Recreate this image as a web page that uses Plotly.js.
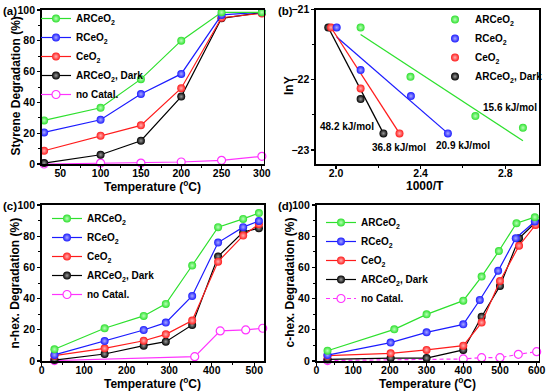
<!DOCTYPE html>
<html><head><meta charset="utf-8">
<script src="https://cdn.plot.ly/plotly-3.0.1.min.js"></script>
<style>html,body{margin:0;padding:0;background:#fff}#chart{width:553px;height:391px}</style>
</head><body><div id="chart"></div>
<script>
// ---------- names ----------
const nameAR = 'ARCeO<sub>2</sub>';
const nameR = 'RCeO<sub>2</sub>';
const nameCe = 'CeO<sub>2</sub>';
const nameDark = 'ARCeO<sub>2</sub>, Dark';
const nameNo = 'no Catal.';

// ---------- (a) styrene degradation ----------
const styT = [30, 100, 150, 200, 250, 300];
const styAR = [28.3, 36.5, 55.1, 80.1, 98.5, 98.5];
const styR = [20.5, 28.7, 45.4, 58.5, 96.8, 98.5];
const styCe = [8.6, 18.4, 25.1, 49.2, 95.0, 97.8];
const styDark = [0.6, 6.0, 15.1, 43.8, 94.6, 98.3];
const styNo = [0, 0.6, 0.6, 1.3, 2.4, 5.0];

// ---------- (b) Arrhenius plot ----------
const arrARx = [2.116, 2.352, 2.659, 2.884];
const arrARy = [-21.256, -21.959, -22.518, -22.684];
const arrRx = [2.003, 2.116, 2.354, 2.529];
const arrRy = [-21.256, -21.863, -22.233, -22.764];
const arrCex = [1.976, 2.116, 2.300];
const arrCey = [-21.256, -22.124, -22.764];
const arrDarkx = [1.963, 2.116, 2.224];
const arrDarky = [-21.256, -22.276, -22.764];
// fitted lines (end points)
const fitARx = [2.116, 2.884];
const fitARy = [-21.356, -22.869];
const fitRx = [2.003, 2.529];
const fitRy = [-21.390, -22.764];
const fitCex = [1.976, 2.300];
const fitCey = [-21.256, -22.764];
const fitDarkx = [1.963, 2.224];
const fitDarky = [-21.256, -22.764];
const eaLabels = ['15.6 kJ/mol', '20.9 kJ/mol', '36.8 kJ/mol', '48.2 kJ/mol'];

// ---------- (c) n-hexane degradation ----------
const nhexT = [30, 148, 240, 292, 354, 415, 474, 511];
const nhexAR = [7.5, 21.0, 28.9, 36.6, 61.2, 85.8, 91.1, 94.8];
const nhexR = [3.9, 12.8, 19.9, 24.6, 41.7, 75.9, 85.8, 89.8];
const nhexCe = [3.4, 8.1, 13.0, 17.1, 25.9, 63.7, 80.4, 87.7];
const nhexDark = [0.6, 4.5, 9.8, 12.4, 23.1, 67.0, 82.6, 85.1];
const nhexNoT = [30, 360, 420, 480, 520];
const nhexNo = [0.3, 2.8, 19.3, 19.9, 21.0];

// ---------- (d) c-hexane degradation ----------
const chexTAR = [30, 212, 300, 400, 450, 497, 545, 595];
const chexAR = [6.6, 20.3, 29.9, 38.7, 54.1, 70.5, 88.3, 92.2];
const chexTR = [30, 202, 300, 400, 445, 495, 543, 595];
const chexR = [3.8, 11.8, 18.4, 23.5, 39.1, 57.8, 78.7, 89.4];
const chexTCe = [30, 202, 300, 400, 450, 500, 552, 597];
const chexCe = [3.4, 4.9, 7.1, 9.8, 24.6, 51.3, 73.9, 87.2];
const chexDark = [1.0, 1.9, 1.9, 7.1, 28.4, 48.1, 78.7, 88.8];
const chexNoT = [30, 400, 450, 500, 550, 600];
const chexNo = [0.3, 1.3, 2.1, 2.1, 4.3, 6.0];

// ---------- axis titles ----------
const tTemp = 'Temperature (<sup>o</sup>C)';
const tSty = 'Styrene Degradation (%)';
const tInvT = '1000/T';
const tLnY = 'lnY';
const tNhex = 'n-hex. Degradation (%)';
const tChex = 'c-hex. Degradation (%)';

// ---------- styles ----------
const FONT = 'Liberation Sans, Arial, Helvetica, sans-serif';
const col = {
  AR: {c: '#2ee02e', g: '#b8ffb8'},
  R: {c: '#1c1cff', g: '#a8a8ff'},
  Ce: {c: '#ff1c1c', g: '#ffb0b0'},
  Dark: {c: '#000000', g: '#9a9a9a'},
  No: {c: '#ff33ff'}
};

function ball(key, x, y, name, xa, ya, legend, rank, mode) {
  return {
    x: x, y: y, name: name, type: 'scatter', mode: mode || 'lines+markers',
    xaxis: xa, yaxis: ya, legend: legend, legendrank: rank,
    line: {color: col[key].c, width: 1.2},
    marker: {size: 8, color: col[key].c, gradient: {type: 'radial', color: col[key].g}, line: {width: 0}},
    cliponaxis: false
  };
}
function hollow(x, y, xa, ya, legend, dash) {
  return {
    x: x, y: y, name: nameNo, type: 'scatter', mode: 'lines+markers',
    xaxis: xa, yaxis: ya, legend: legend, legendrank: 5,
    line: {color: col.No.c, width: 1.2, dash: dash || 'solid'},
    marker: {size: 8, color: '#ffffff', line: {width: 1.2, color: col.No.c}},
    cliponaxis: false
  };
}
function fit(key, x, y) {
  return {x: x, y: y, type: 'scatter', mode: 'lines', xaxis: 'x2', yaxis: 'y2',
    showlegend: false, line: {color: col[key].c, width: 1.3}, hoverinfo: 'skip'};
}

const traces = [
  // (a)
  hollow(styT, styNo, 'x', 'y', 'legend'),
  ball('Dark', styT, styDark, nameDark, 'x', 'y', 'legend', 4),
  ball('Ce', styT, styCe, nameCe, 'x', 'y', 'legend', 3),
  ball('R', styT, styR, nameR, 'x', 'y', 'legend', 2),
  ball('AR', styT, styAR, nameAR, 'x', 'y', 'legend', 1),
  // (b)
  fit('AR', fitARx, fitARy), fit('R', fitRx, fitRy), fit('Ce', fitCex, fitCey), fit('Dark', fitDarkx, fitDarky),
  ball('Dark', arrDarkx, arrDarky, nameDark, 'x2', 'y2', 'legend2', 4, 'markers'),
  ball('Ce', arrCex, arrCey, nameCe, 'x2', 'y2', 'legend2', 3, 'markers'),
  ball('R', arrRx, arrRy, nameR, 'x2', 'y2', 'legend2', 2, 'markers'),
  ball('AR', arrARx, arrARy, nameAR, 'x2', 'y2', 'legend2', 1, 'markers'),
  // (c)
  hollow(nhexNoT, nhexNo, 'x3', 'y3', 'legend3'),
  ball('Dark', nhexT, nhexDark, nameDark, 'x3', 'y3', 'legend3', 4),
  ball('Ce', nhexT, nhexCe, nameCe, 'x3', 'y3', 'legend3', 3),
  ball('R', nhexT, nhexR, nameR, 'x3', 'y3', 'legend3', 2),
  ball('AR', nhexT, nhexAR, nameAR, 'x3', 'y3', 'legend3', 1),
  // (d)
  hollow(chexNoT, chexNo, 'x4', 'y4', 'legend4', '4px,3px'),
  ball('Dark', chexTCe, chexDark, nameDark, 'x4', 'y4', 'legend4', 4),
  ball('Ce', chexTCe, chexCe, nameCe, 'x4', 'y4', 'legend4', 3),
  ball('R', chexTR, chexR, nameR, 'x4', 'y4', 'legend4', 2),
  ball('AR', chexTAR, chexAR, nameAR, 'x4', 'y4', 'legend4', 1)
];

const W = 553, H = 391;
const px = v => v / W;
const py = v => 1 - v / H;
const tickFont = {family: FONT, size: 10.5, color: '#000', weight: 'bold'};

function xax(domL, domR, range, dtick, minorD, anchor, fmt) {
  return {
    domain: [px(domL), px(domR)], range: range, anchor: anchor,
    dtick: dtick, tick0: 0, tickformat: fmt || '',
    ticks: 'outside', ticklen: 3, tickwidth: 1.2, tickcolor: '#000',
    ticklabelstandoff: -4,
    minor: {dtick: minorD, ticks: 'outside', ticklen: 2, tickwidth: 1, tickcolor: '#000'},
    showline: true, mirror: true, linewidth: 1.6, linecolor: '#000',
    showgrid: false, zeroline: false, tickfont: tickFont
  };
}
function yax(domB, domT, range, dtick, minorD, anchor) {
  return {
    domain: [py(domB), py(domT)], range: range, anchor: anchor,
    dtick: dtick, tick0: 0,
    ticks: 'outside', ticklen: 3, tickwidth: 1.2, tickcolor: '#000',
    minor: {dtick: minorD, ticks: 'outside', ticklen: 2, tickwidth: 1, tickcolor: '#000'},
    showline: true, mirror: true, linewidth: 1.6, linecolor: '#000',
    showgrid: false, zeroline: false, tickfont: tickFont
  };
}
function leg(left, top) {
  return {
    x: px(left), y: py(top), xanchor: 'left', yanchor: 'top',
    xref: 'paper', yref: 'paper',
    bgcolor: 'rgba(0,0,0,0)', borderwidth: 0,
    font: {family: FONT, size: 10, color: '#000', weight: 'bold'},
    traceorder: 'normal', itemwidth: 30
  };
}
function lab(t, x, y) {
  return {text: t, x: px(x), y: py(y), xref: 'paper', yref: 'paper', xanchor: 'left', yanchor: 'middle',
    showarrow: false, font: {family: FONT, size: 11.5, color: '#000', weight: 'bold'}};
}
function atitle(t, x, y, rot) {
  return {text: t, x: px(x), y: py(y), xref: 'paper', yref: 'paper', xanchor: 'center', yanchor: 'middle',
    textangle: rot || 0, showarrow: false,
    font: {family: FONT, size: 12, color: '#000', weight: 'bold'}};
}
function ea(t, x, y) {
  return {text: t, x: x, y: y, xref: 'x2', yref: 'y2', xanchor: 'center', yanchor: 'middle',
    showarrow: false, font: {family: FONT, size: 10, color: '#000', weight: 'bold'}};
}

const layout = {
  width: W, height: H,
  margin: {l: 0, r: 0, t: 0, b: 0},
  paper_bgcolor: '#fff', plot_bgcolor: '#fff',
  showlegend: true,
  xaxis: xax(41.7, 263.5, [27, 302], 50, 25, 'y'),
  yaxis: yax(164, 10, [0, 100], 20, 10, 'x'),
  xaxis2: xax(316, 539, [1.905, 2.96], 0.4, 0.2, 'y2', '.1f'),
  yaxis2: yax(164, 9.5, [-23.2, -21], 1, 0.5, 'x2'),
  xaxis3: xax(41.7, 264, [0, 523], 100, 50, 'y3'),
  yaxis3: yax(361, 205, [0, 100], 20, 10, 'x3'),
  xaxis4: xax(316.5, 538.5, [0, 605], 100, 50, 'y4'),
  yaxis4: yax(361, 205, [0, 100], 20, 10, 'x4'),
  legend: leg(36, 4),
  legend2: leg(435, 5),
  legend3: leg(47, 204),
  legend4: leg(321, 208),
  annotations: [
    lab('(a)', 1, 11), lab('(b)', 276, 11), lab('(c)', 1, 206), lab('(d)', 276, 206),
    atitle(tTemp, 152.5, 186.5), atitle(tSty, 15.5, 86, -90),
    atitle(tInvT, 425, 186.5), atitle(tLnY, 289, 86, -90),
    atitle(tTemp, 152.5, 382.5), atitle(tNhex, 14.5, 283, -90),
    atitle(tTemp, 427.5, 382.5), atitle(tChex, 289.5, 283, -90),
    ea(eaLabels[0], 2.824, -22.394),
    ea(eaLabels[1], 2.600, -22.94),
    ea(eaLabels[2], 2.297, -22.969),
    ea(eaLabels[3], 2.051, -22.66)
  ]
};

Plotly.newPlot('chart', traces, layout, {displayModeBar: false, staticPlot: true});
</script>
</body></html>
